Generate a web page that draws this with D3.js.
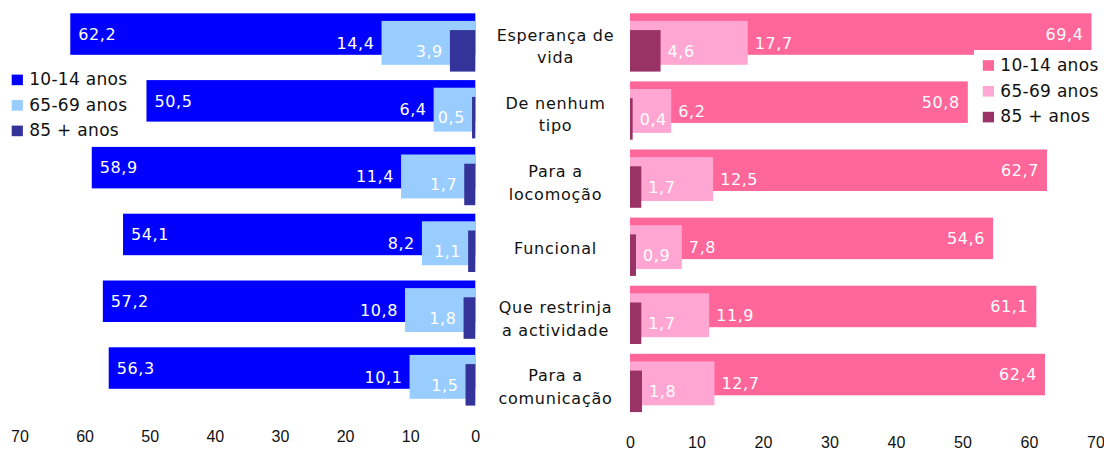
<!DOCTYPE html>
<html>
<head>
<meta charset="utf-8">
<script src="https://cdn.jsdelivr.net/npm/d3@7"></script>
<style>
  body { margin: 0; background: #fff; }
  svg { display: block; }
</style>
</head>
<body>
<div id="chart"></div>
<script>
const categories = [
    ["Esperança de", "vida"],
    ["De nenhum", "tipo"],
    ["Para a", "locomoção"],
    ["Funcional"],
    ["Que restrinja", "a actividade"],
    ["Para a", "comunicação"]
];
const seriesNames = ["10-14 anos", "65-69 anos", "85 + anos"];
const homens = [
    [62.2, 50.5, 58.9, 54.1, 57.2, 56.3],
    [14.4, 6.4, 11.4, 8.2, 10.8, 10.1],
    [3.9, 0.5, 1.7, 1.1, 1.8, 1.5]
];
const mulheres = [
    [69.4, 50.8, 62.7, 54.6, 61.1, 62.4],
    [17.7, 6.2, 12.5, 7.8, 11.9, 12.7],
    [4.6, 0.4, 1.7, 0.9, 1.7, 1.8]
];
const tickValues = [0, 10, 20, 30, 40, 50, 60, 70];

const width = 1104, height = 449;
const blues = ["#0000ff", "#99ccff", "#333399"];
const pinks = ["#ff6699", "#ffa6d2", "#993366"];
// offsets of the three overlapping bars inside a row (px from row top)
const sub = [[0, 41.5], [7.6, 51.5], [16.8, 58.3]];

const fmt = v => d3.format(".1f")(v).replace(".", ",");
const idx = d3.range(categories.length);

const svg = d3.select("#chart").append("svg")
    .attr("width", width)
    .attr("height", height)
    .style("font-family", "'DejaVu Sans', Verdana, sans-serif");

function panel(data, colors, x, y, side, axisY) {
    const g = svg.append("g");
    data.forEach((vals, s) => {
        g.selectAll(null)
            .data(idx)
            .enter().append("rect")
            .attr("x", i => side === "left" ? x(vals[i]) : x(0))
            .attr("y", i => y(i) + sub[s][0])
            .attr("width", i => Math.abs(x(vals[i]) - x(0)))
            .attr("height", sub[s][1] - sub[s][0])
            .attr("fill", colors[s]);
    });
    data.forEach((vals, s) => {
        const dir = side === "left" ? -1 : 1;
        g.selectAll(null)
            .data(idx)
            .enter().append("text")
            .attr("x", i => s === 0 ? x(vals[i]) - dir * 8 : x(vals[i]) + dir * 7)
            .attr("y", i => y(i) + (sub[s][0] + sub[s][1]) / 2)
            .attr("dy", "0.36em")
            .attr("text-anchor", (s === 0) === (side === "left") ? "start" : "end")
            .attr("fill", "#fff")
            .style("font-size", "16px")
            .style("letter-spacing", "0.6px")
            .text(i => fmt(vals[i]));
    });
    const ax = svg.append("g")
        .attr("transform", `translate(0,${axisY})`)
        .call(d3.axisBottom(x).tickValues(tickValues).tickSize(0).tickFormat(d3.format("d")));
    ax.select(".domain").remove();
    ax.selectAll("text")
        .attr("y", 0).attr("dy", null)
        .style("font-family", "'Liberation Sans', Arial, sans-serif")
        .style("font-size", "16px")
        .attr("fill", "#111");
}

const yLeft = d3.scaleBand().domain(idx).range([13.3, 13.3 + 6 * 66.8]);
const yRight = d3.scaleBand().domain(idx).range([13.3, 13.3 + 6 * 68.1]);
const xLeft = d3.scaleLinear().domain([0, 70]).range([475.3, 19.5]);
const xRight = d3.scaleLinear().domain([0, 70]).range([630, 630 + 70 * 6.65]);

panel(homens, blues, xLeft, yLeft, "left", 441.7);
panel(mulheres, pinks, xRight, yRight, "right", 447.5);

// category labels in the middle
const cat = svg.append("g");
cat.selectAll("text")
    .data(idx)
    .enter().append("text")
    .attr("x", 555.5)
    .attr("text-anchor", "middle")
    .attr("fill", "#111")
    .style("font-size", "16px")
    .style("letter-spacing", "0.75px")
    .each(function(i) {
        const c = yRight(i) + 29.2;
        const lines = categories[i];
        const t = d3.select(this);
        if (lines.length === 1) {
            t.attr("y", c + 7);
            t.text(lines[0]);
        } else {
            lines.forEach((l, k) => {
                t.append("tspan")
                    .attr("x", 555.5)
                    .attr("y", c - 1.8 + k * 22.6)
                    .text(l);
            });
        }
    });

function legend(x0, y0, colors, pitch, box) {
    const g = svg.append("g");
    if (box) {
        g.append("rect").attr("x", box[0]).attr("y", box[1])
            .attr("width", box[2]).attr("height", box[3]).attr("fill", "#fff");
    }
    seriesNames.forEach((n, s) => {
        g.append("rect")
            .attr("x", x0).attr("y", y0 + s * pitch)
            .attr("width", 11.2).attr("height", 10.6)
            .attr("fill", colors[s]);
        g.append("text")
            .attr("x", x0 + 17.5).attr("y", y0 + s * pitch + 10.5)
            .attr("fill", "#111")
            .style("font-size", "17px")
            .style("letter-spacing", "0.3px")
            .text(n);
    });
}

legend(11.7, 74.6, blues, 25.5, null);
legend(982.8, 60.2, pinks, 25.8, [974, 50, 130, 82]);
</script>
</body>
</html>
